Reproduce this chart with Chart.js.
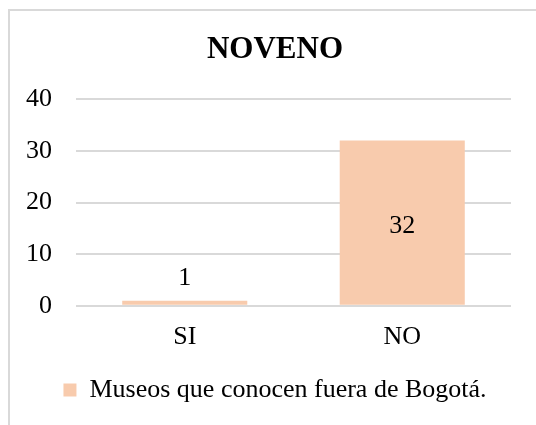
<!DOCTYPE html>
<html>
<head>
<meta charset="utf-8">
<script src="https://cdn.jsdelivr.net/npm/chart.js@4.4.0/dist/chart.umd.min.js"></script>
<style>
    html, body { margin: 0; padding: 0; background: #fff; overflow: hidden; width: 536px; height: 425px; }
    #box {
        position: absolute; left: 8px; top: 9px;
        width: 530px; height: 440px;
        border: 2px solid #d9d9d9;
    }
    #wrap { position: relative; width: 530px; height: 402px; }
</style>
</head>
<body>
<div id="box"><div id="wrap"><canvas id="chart"></canvas></div></div>
<script>
    // 数据
    const categories = ['SI', 'NO'];
    const seriesName = 'Museos que conocen fuera de Bogotá.';
    const seriesValues = [1, 32];
    const yTicks = [0, 10, 20, 30, 40];

    const serif = '"Liberation Serif", "Times New Roman", serif';
    const barColor = '#f8cbad';

    // 柱子上的数值标签
    const valueLabels = {
        id: 'valueLabels',
        afterDatasetsDraw(chart) {
            const ctx = chart.ctx;
            const meta = chart.getDatasetMeta(0);
            ctx.save();
            ctx.font = '26px ' + serif;
            ctx.fillStyle = '#000';
            ctx.textAlign = 'center';
            ctx.textBaseline = 'middle';
            meta.data.forEach((bar, i) => {
                const v = seriesValues[i];
                const h = bar.base - bar.y;
                let y;
                if (h > 40) {
                    y = (bar.y + bar.base) / 2 + 4;
                } else {
                    y = bar.y - 22;
                }
                ctx.fillText(String(v), bar.x, y);
            });
            ctx.restore();
        }
    };

    new Chart(document.getElementById('chart'), {
        type: 'bar',
        data: {
            labels: categories,
            datasets: [{
                label: seriesName,
                data: seriesValues,
                backgroundColor: barColor,
                borderWidth: 0,
                barPercentage: 0.575,
                categoryPercentage: 1
            }]
        },
        options: {
            responsive: true,
            maintainAspectRatio: false,
            animation: false,
            layout: { padding: 0 },
            plugins: {
                title: {
                    display: true,
                    text: 'NOVENO',
                    color: '#000',
                    font: { family: serif, size: 31, weight: 'bold', lineHeight: 1.2 },
                    padding: { top: 20, bottom: 31 }
                },
                legend: {
                    display: true,
                    position: 'bottom',
                    labels: {
                        color: '#000',
                        boxWidth: 13,
                        boxHeight: 13,
                        font: { family: serif, size: 26 },
                        padding: 8
                    }
                },
                tooltip: { enabled: false }
            },
            scales: {
                x: {
                    grid: { display: false, drawTicks: false },
                    border: { display: false },
                    ticks: {
                        color: '#000',
                        font: { family: serif, size: 26 },
                        padding: 16
                    }
                },
                y: {
                    min: yTicks[0],
                    max: yTicks[yTicks.length - 1],
                    afterBuildTicks(axis) {
                        axis.ticks = yTicks.map(v => ({ value: v }));
                    },
                    afterFit(axis) {
                        axis.width = 66;
                    },
                    grid: { color: '#d9d9d9', lineWidth: 2, drawTicks: false },
                    border: { display: false },
                    ticks: {
                        color: '#000',
                        font: { family: serif, size: 26 },
                        padding: 24
                    }
                },
                // 右侧留白
                pad: {
                    type: 'linear',
                    position: 'right',
                    display: true,
                    grid: { display: false, drawTicks: false },
                    border: { display: false },
                    ticks: { display: false },
                    afterFit(axis) {
                        axis.width = 29;
                    }
                }
            }
        },
        plugins: [valueLabels]
    });
</script>
</body>
</html>
